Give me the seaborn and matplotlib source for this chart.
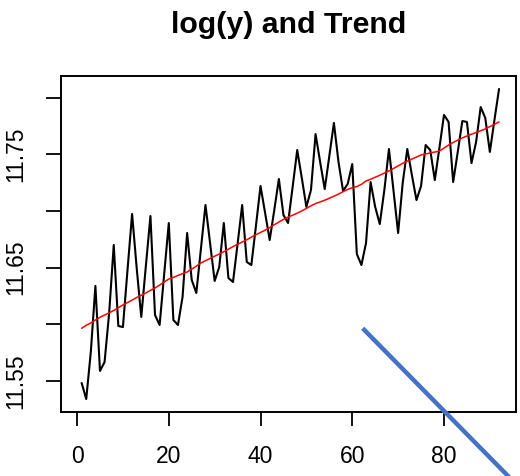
import numpy as np
import pandas as pd
import matplotlib
matplotlib.use("Agg")
import matplotlib.pyplot as plt
from matplotlib.lines import Line2D
import seaborn as sns

# ---- data (quarterly series, 92 obs) ----
log_y = [
    11.5480, 11.5338, 11.5754, 11.6337, 11.5586, 11.5665, 11.6098, 11.6699,
    11.5983, 11.5974, 11.6478, 11.6973, 11.6496, 11.6063, 11.6513, 11.6955,
    11.6080, 11.5992, 11.6443, 11.6893, 11.6036, 11.5992, 11.6239, 11.6805,
    11.6390, 11.6275, 11.6663, 11.7052, 11.6716, 11.6381, 11.6505, 11.6893,
    11.6407, 11.6372, 11.6708, 11.7052, 11.6549, 11.6522, 11.6867, 11.7220,
    11.6982, 11.6743, 11.7008, 11.7282, 11.6964, 11.6893, 11.7211, 11.7538,
    11.7291, 11.7035, 11.7185, 11.7679, 11.7432, 11.7193, 11.7485, 11.7777,
    11.7432, 11.7176, 11.7238, 11.7414, 11.6619, 11.6522, 11.6716, 11.7255,
    11.7035, 11.6884, 11.7185, 11.7547, 11.7176, 11.6805, 11.7247, 11.7547,
    11.7317, 11.7096, 11.7220, 11.7582, 11.7538, 11.7273, 11.7556, 11.7848,
    11.7786, 11.7255, 11.7521, 11.7794, 11.7786, 11.7423, 11.7609, 11.7918,
    11.7821, 11.7521, 11.7803, 11.8077,
]
trend = [
    11.5963, 11.5990, 11.6010, 11.6036, 11.6060, 11.6080, 11.6100, 11.6120,
    11.6145, 11.6169, 11.6190, 11.6212, 11.6235, 11.6255, 11.6275, 11.6298,
    11.6319, 11.6345, 11.6372, 11.6398, 11.6412, 11.6430, 11.6445, 11.6460,
    11.6485, 11.6512, 11.6540, 11.6560, 11.6580, 11.6600, 11.6619, 11.6640,
    11.6662, 11.6685, 11.6705, 11.6725, 11.6745, 11.6768, 11.6790, 11.6810,
    11.6830, 11.6852, 11.6878, 11.6902, 11.6925, 11.6945, 11.6962, 11.6980,
    11.7000, 11.7022, 11.7045, 11.7065, 11.7079, 11.7095, 11.7112, 11.7130,
    11.7149, 11.7170, 11.7190, 11.7205, 11.7215, 11.7235, 11.7264, 11.7280,
    11.7298, 11.7315, 11.7335, 11.7353, 11.7375, 11.7398, 11.7420, 11.7440,
    11.7458, 11.7476, 11.7494, 11.7503, 11.7512, 11.7520, 11.7529, 11.7555,
    11.7582, 11.7605, 11.7625, 11.7645, 11.7662, 11.7678, 11.7692, 11.7708,
    11.7724, 11.7745, 11.7765, 11.7786,
]
x_ticks = [0, 20, 40, 60, 80]
y_ticks = [11.55, 11.60, 11.65, 11.70, 11.75, 11.80]
y_tick_labels = ["11.55", "", "11.65", "", "11.75", ""]
title = "log(y) and Trend"

t = list(range(1, len(log_y) + 1))
df = pd.DataFrame({"t": t, "log_y": log_y, "trend": trend})

sns.set_theme(style="white")
plt.rcParams["font.family"] = ["Liberation Sans", "DejaVu Sans"]
plt.rcParams["text.color"] = "black"
plt.rcParams["xtick.color"] = "black"
plt.rcParams["ytick.color"] = "black"

W, H = 520, 476
fig = plt.figure(figsize=(W / 100, H / 100), dpi=100)
ax = fig.add_axes([61 / W, 1 - 411.7 / H, 455 / W, (411.7 - 76) / H])

sns.lineplot(data=df, x="t", y="log_y", ax=ax, color="black", linewidth=1.5)
sns.lineplot(data=df, x="t", y="trend", ax=ax, color="#ff0000", linewidth=1.1)

ax.set_xlim(-3.5, 95.7)
ax.set_ylim(11.5226, 11.8192)
ax.set_xticks(x_ticks)
ax.set_xticklabels([str(v) for v in x_ticks], fontsize=16.5)
ax.set_yticks(y_ticks)
ax.set_yticklabels(y_tick_labels, fontsize=16.5, rotation=90, va="center")
ax.tick_params(axis="x", direction="out", length=10, width=1.3, pad=14,
               bottom=True, color="black", labelcolor="black")
ax.tick_params(axis="y", direction="out", length=11, width=1.3, pad=13,
               left=True, color="black", labelcolor="black")
ax.set_xlabel("")
ax.set_ylabel("")
for s in ax.spines.values():
    s.set_visible(True)
    s.set_color("black")
    s.set_linewidth(1.4)

fig.text(289 / W, 1 - 25 / H, title, ha="center", va="center",
         fontsize=21.8, fontweight="bold", color="black")

# decorative blue stroke overlapping the lower right of the figure
fig.add_artist(Line2D([362.7 / W, 510 / W], [1 - 328.3 / H, 1 - 478 / H],
                      transform=fig.transFigure, color="#4472c4",
                      linewidth=3.2, solid_capstyle="butt", clip_on=False))

fig.savefig("out.png", dpi=100)
